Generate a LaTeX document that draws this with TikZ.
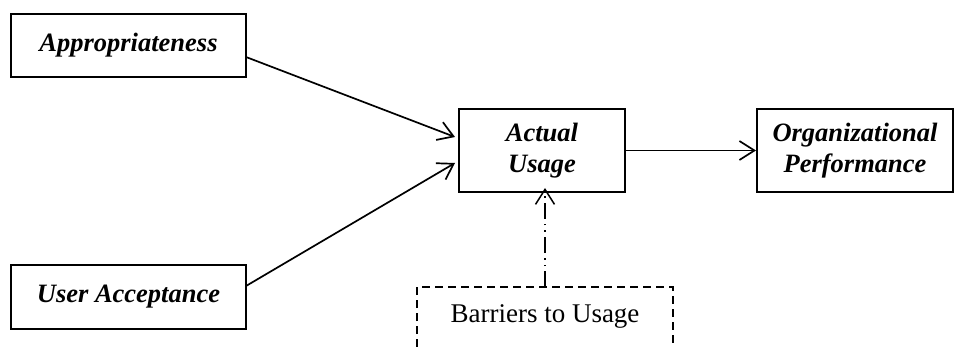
\documentclass[tikz,border=0pt]{standalone}
\usepackage{fontspec}
\setmainfont{Liberation Serif}
\usetikzlibrary{arrows.meta}
\begin{document}
\begin{tikzpicture}[x=1pt,y=-1pt,
  box/.style={draw, line width=2pt, inner sep=0pt, font=\fontsize{26.5}{31}\selectfont\bfseries\itshape, align=center},
  arr/.style={line width=1.7pt, -{Straight Barb[length=15pt,width=19pt,line width=1.7pt]}},
  darr/.style={line width=1.5pt, dash pattern=on 16pt off 5pt on 1.5pt off 5pt on 1.5pt off 5pt, -{Straight Barb[length=15pt,width=19pt,line width=1.5pt]}}]
\useasboundingbox (0,0) rectangle (960,347);
\node[box, minimum width=235pt, minimum height=63pt] (app) at (128.5,45.5) {Appropriateness};
\node[box, minimum width=235pt, minimum height=64pt] (ua) at (128.5,297) {User Acceptance};
\node[box, minimum width=166pt, minimum height=83pt] (au) at (542,150.5) {Actual\\Usage};
\node[box, minimum width=196pt, minimum height=83pt] (op) at (855,150.5) {Organizational\\Performance};
% barriers box, clipped at bottom
\coordinate (bl) at (417,347);
\coordinate (tl) at (417,287);
\coordinate (tr) at (673,287);
\coordinate (br) at (673,347);
\draw[line width=1.6pt, dash pattern=on 8pt off 5pt] (bl) -- (tl) -- (tr) -- (br);
\node[font=\fontsize{27}{31}\selectfont] (bar) at (545,316) {Barriers to Usage};
\coordinate (bartop) at (545,287);
\coordinate (a1s) at (246,57);
\coordinate (a2s) at (246,286);
\coordinate (a1e) at (455,137);
\coordinate (a2e) at (455,163);
\draw[arr] (a1s) -- (a1e);
\draw[arr] (a2s) -- (a2e);
\draw[arr] (au.east) -- (op.west);
\draw[darr] (bartop) -- ([yshift=5pt]au.south -| bartop);
\end{tikzpicture}
\end{document}
